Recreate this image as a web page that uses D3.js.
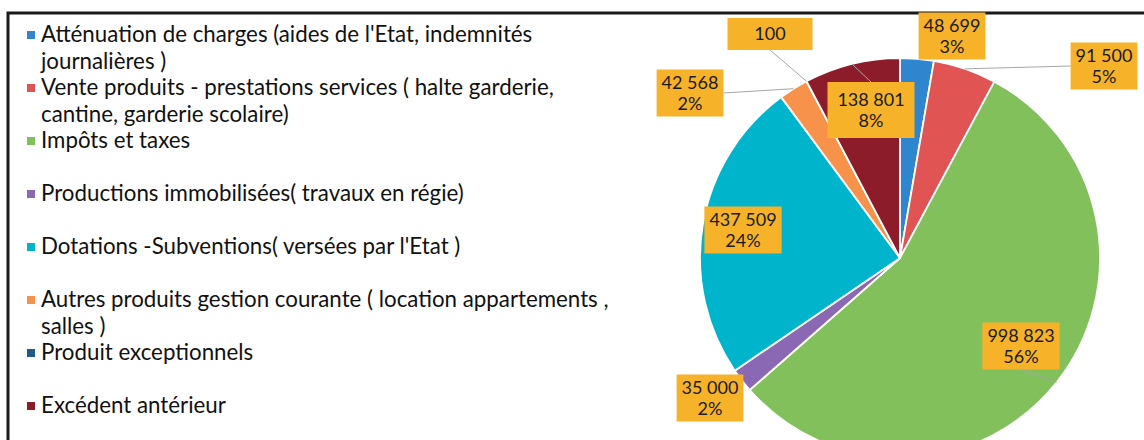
<!DOCTYPE html>
<html>
<head>
<meta charset="utf-8">
<script src="https://cdn.jsdelivr.net/npm/d3@7"></script>
<style>
  body { margin: 0; background: #fff; }
  svg { display: block; font-family: Lato, "Open Sans", sans-serif; }
</style>
</head>
<body>
<svg id="chart" width="1144" height="440"></svg>
<script>
'use strict';

// legend names, already split the way the original wraps them
const categories = [
  ["Atténuation de charges (aides de l'Etat, indemnités", "journalières )"],
  ["Vente produits - prestations services ( halte garderie,", "cantine, garderie scolaire)"],
  ["Impôts et taxes"],
  ["Productions immobilisées( travaux en régie)"],
  ["Dotations -Subventions( versées par l'Etat )"],
  ["Autres produits gestion courante ( location appartements ,", "salles )"],
  ["Produit exceptionnels"],
  ["Excédent antérieur"]
];
const values = [48699, 91500, 998823, 35000, 437509, 42568, 100, 138801];
const colors = ["#2f86cf", "#e05454", "#82c05c", "#8a68b4", "#00b4cc", "#f7924b", "#1f5a8a", "#8c1c2a"];

// data label boxes were dragged by hand in the original: centre, in radius units from the pie centre
const labelSpots = [[0.26, -1.11], [1.02, -0.96], [0.605, 0.44], [-0.95, 0.70],
                    [-0.785, -0.14], [-1.05, -0.825], [-0.65, -1.12], [-0.145, -0.74]];
// a couple of boxes have a forced size
const labelSizes = {6: [85, 32], 7: [87, 56]};

const svg = d3.select("#chart");
const total = d3.sum(values);
const fr = d3.formatLocale({decimal: ",", thousands: " ", grouping: [3]});
const fmt = fr.format(",d");

const cx = 900, cy = 258, radius = 200;

// frame (only top and left edges show in the crop)
svg.append("path")
  .attr("d", "M8,440 V13 H1144")
  .attr("fill", "none")
  .attr("stroke", "#1a1a1a")
  .attr("stroke-width", 3);

//LEGEND
const legend = svg.append("g").attr("class", "legend");
const slot = 53, lineGap = 26.5, firstBase = 42;

categories.forEach(function(lines, i) {
  const base = firstBase + i * slot;
  legend.append("rect")
    .attr("x", 27).attr("y", base - 11)
    .attr("width", 8).attr("height", 8)
    .attr("fill", colors[i]);

  const t = legend.append("text")
    .attr("x", 41).attr("y", base)
    .attr("font-size", 22.3)
    .attr("fill", "#111");
  lines.forEach(function(l, j) {
    t.append("tspan").attr("x", 41).attr("y", base + j * lineGap).text(l);
  });
});

//PIE
const pie = d3.pie().sort(null).value(function(d) { return d; });
const arcs = pie(values);
const arc = d3.arc().innerRadius(0).outerRadius(radius);

const g = svg.append("g").attr("transform", "translate(" + cx + "," + cy + ")");

g.selectAll("path.slice")
  .data(arcs)
  .enter().append("path")
    .attr("class", "slice")
    .attr("d", arc)
    .attr("fill", function(d, i) { return colors[i]; })
    .attr("stroke", "#fff")
    .attr("stroke-width", 1.8);

//LABELS
const labelFont = 18, labelLine = 21.5;
const labels = g.append("g").attr("class", "labels");

arcs.forEach(function(d, i) {
  const pct = Math.round(d.value / total * 100);
  const lines = pct > 0 ? [fmt(d.value), pct + "%"] : [fmt(d.value)];

  const lx = labelSpots[i][0] * radius;
  const ly = labelSpots[i][1] * radius;

  const grp = labels.append("g");
  const box = grp.append("rect").attr("fill", "#f6b228");
  const txt = grp.append("text")
    .attr("font-size", labelFont)
    .attr("fill", "#1a1a1a")
    .attr("text-anchor", "middle");
  lines.forEach(function(l, j) {
    txt.append("tspan")
      .attr("x", lx)
      .attr("y", ly + (j - (lines.length - 1) / 2) * labelLine + labelFont * 0.35)
      .text(l);
  });

  let w = txt.node().getBBox().width + 10;
  let h = lines.length * labelLine + 4;
  if (labelSizes[i]) { w = labelSizes[i][0]; h = labelSizes[i][1]; }
  const x0 = lx - w / 2, y0 = ly - h / 2;
  box.attr("x", x0).attr("y", y0).attr("width", w).attr("height", h);

  // leader line from the middle of the arc to the nearest side of the box
  const mid = (d.startAngle + d.endAngle) / 2;
  const px = Math.sin(mid) * radius, py = -Math.cos(mid) * radius;
  const nx = Math.max(x0, Math.min(px, x0 + w));
  const ny = Math.max(y0, Math.min(py, y0 + h));
  const dist = Math.hypot(px - nx, py - ny);
  if (dist > 8) {
    let ex, ey;
    if (px < x0) { ex = x0; ey = ly; }
    else if (px > x0 + w) { ex = x0 + w; ey = ly; }
    else if (py < y0) { ex = lx; ey = y0; }
    else { ex = lx; ey = y0 + h; }
    labels.insert("line", ":first-child")
      .attr("x1", px).attr("y1", py)
      .attr("x2", ex).attr("y2", ey)
      .attr("stroke", "#a6a6a6")
      .attr("stroke-width", 1);
  }
});
</script>
</body>
</html>
